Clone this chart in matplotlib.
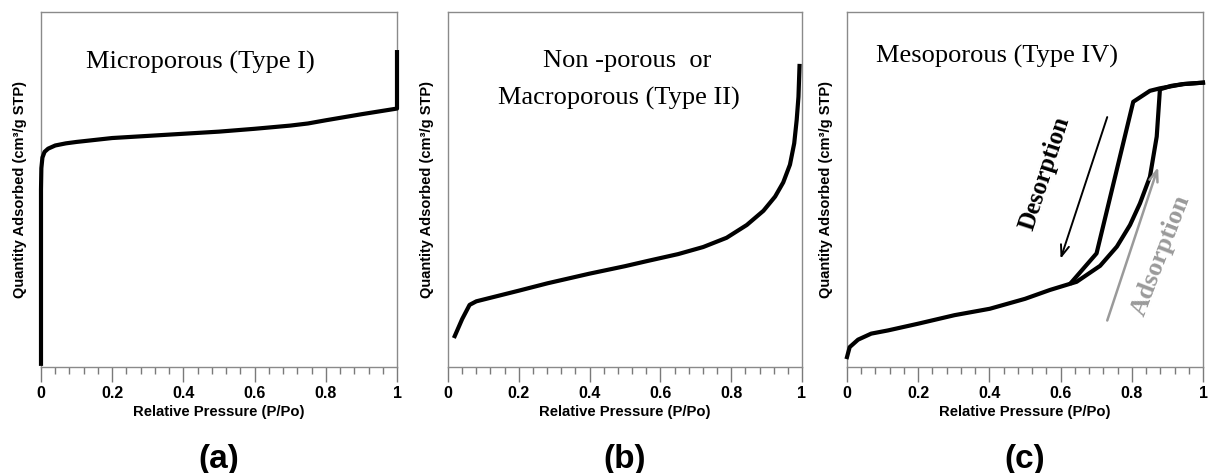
import matplotlib
matplotlib.use("Agg")
import matplotlib.pyplot as plt

# ---------------- data ----------------
# Panel (a): Type I isotherm
a_x = [0.0, 0.0, 0.001, 0.004, 0.01, 0.02, 0.04, 0.07, 0.1, 0.2, 0.3, 0.4, 0.5,
       0.6, 0.7, 0.75, 0.8, 0.9, 1.0, 1.0]
a_y = [0.009, 0.50, 0.56, 0.59, 0.606, 0.615, 0.624, 0.630, 0.634, 0.645, 0.651,
       0.657, 0.663, 0.671, 0.680, 0.686, 0.695, 0.712, 0.728, 0.887]

# Panel (b): Type II isotherm
b_x = [0.019, 0.04, 0.061, 0.08, 0.104, 0.2, 0.282, 0.4, 0.5, 0.565, 0.65,
       0.721, 0.787, 0.844, 0.891, 0.924, 0.947, 0.966, 0.978, 0.985, 0.990,
       0.993]
b_y = [0.087, 0.135, 0.175, 0.185, 0.191, 0.215, 0.236, 0.263, 0.284, 0.299,
       0.318, 0.338, 0.364, 0.400, 0.440, 0.480, 0.520, 0.570, 0.630, 0.696,
       0.761, 0.848]

# Panel (c): Type IV isotherm, adsorption and desorption branches
c_ads_x = [0.0, 0.0075, 0.031, 0.068, 0.115, 0.2, 0.302, 0.401, 0.5, 0.57,
           0.645, 0.711, 0.758, 0.795, 0.823, 0.851, 0.870, 0.879, 0.911,
           0.945, 1.0]
c_ads_y = [0.028, 0.056, 0.077, 0.094, 0.103, 0.122, 0.146, 0.164, 0.192,
           0.217, 0.240, 0.285, 0.339, 0.400, 0.461, 0.536, 0.649, 0.782,
           0.792, 0.797, 0.801]
c_des_x = [1.0, 0.945, 0.879, 0.851, 0.804, 0.701, 0.63]
c_des_y = [0.801, 0.797, 0.785, 0.778, 0.747, 0.320, 0.238]

x_ticks = [0, 0.2, 0.4, 0.6, 0.8, 1.0]
x_tick_labels = ["0", "0.2", "0.4", "0.6", "0.8", "1"]
x_minor = [i * 0.04 for i in range(26)]

titles_a = ["Microporous (Type I)"]
titles_b = ["Non -porous  or", "Macroporous (Type II)"]
titles_c = ["Mesoporous (Type IV)"]
panel_labels = ["(a)", "(b)", "(c)"]
xlabel = "Relative Pressure (P/Po)"
ylabel = "Quantity Adsorbed (cm\u00b3/g STP)"

# ---------------- figure ----------------
W, H = 1209, 473
fig = plt.figure(figsize=(W / 100, H / 100), dpi=100)

SANS = ["Liberation Sans", "DejaVu Sans"]
SERIF = ["Liberation Serif", "DejaVu Serif"]

boxes = [(41, 397), (448, 802), (847, 1203)]
top_px, bot_px = 12, 367
axes = []
for (l, r) in boxes:
    ax = fig.add_axes([l / W, 1 - bot_px / H, (r - l) / W, (bot_px - top_px) / H])
    ax.set_xlim(0, 1)
    ax.set_ylim(0, 1)
    ax.set_xticks(x_ticks)
    ax.set_xticklabels(x_tick_labels, fontfamily=SANS, fontweight="bold", fontsize=11.5)
    ax.set_xticks(x_minor, minor=True)
    ax.set_yticks([])
    ax.tick_params(axis="x", which="major", direction="out", length=11, width=1,
                   color="#7a7a7a", pad=3)
    ax.tick_params(axis="x", which="minor", direction="out", length=5, width=1,
                   color="#7a7a7a")
    for s in ax.spines.values():
        s.set_color("#8a8a8a")
        s.set_linewidth(1.0)
    ax.set_xlabel(xlabel, fontfamily=SANS, fontweight="bold", fontsize=10.7, labelpad=2.5)
    ax.set_ylabel(ylabel, fontfamily=SANS, fontweight="bold", fontsize=10.5)
    ax.yaxis.set_label_coords(-14 / (r - l), 0.5)
    axes.append(ax)

lw = 3.0
ax_a, ax_b, ax_c = axes
line_kw = dict(color="black", lw=lw, solid_joinstyle="round", clip_on=False, zorder=3)
ax_a.plot(a_x, a_y, **line_kw)
ax_b.plot(b_x, b_y, **line_kw)
ax_c.plot(c_ads_x, c_ads_y, **line_kw)
ax_c.plot(c_des_x, c_des_y, **line_kw)

# titles inside panels
ax_a.text(0.447, 0.858, titles_a[0], transform=ax_a.transAxes, ha="center",
          va="center", fontfamily=SERIF, fontsize=19)
ax_b.text(0.507, 0.862, titles_b[0], transform=ax_b.transAxes, ha="center",
          va="center", fontfamily=SERIF, fontsize=19)
ax_b.text(0.482, 0.757, titles_b[1], transform=ax_b.transAxes, ha="center",
          va="center", fontfamily=SERIF, fontsize=19)
ax_c.text(0.42, 0.874, titles_c[0], transform=ax_c.transAxes, ha="center",
          va="center", fontfamily=SERIF, fontsize=19)

# arrows and labels in panel c
ax_c.annotate("", xy=(0.600, 0.305), xytext=(0.731, 0.704),
              arrowprops=dict(arrowstyle="->,head_length=0.8,head_width=0.3",
                              color="black", lw=1.4, shrinkA=0, shrinkB=0))
ax_c.annotate("", xy=(0.874, 0.563), xytext=(0.731, 0.131),
              arrowprops=dict(arrowstyle="->,head_length=0.8,head_width=0.3",
                              color="#9a9a9a", lw=1.8, shrinkA=0, shrinkB=0))
ax_c.text(0.555, 0.545, "Desorption", transform=ax_c.transAxes, ha="center",
          va="center", rotation=72, rotation_mode="anchor",
          fontfamily=SERIF, fontweight="bold", fontsize=18, color="black")
ax_c.text(0.883, 0.315, "Adsorption", transform=ax_c.transAxes, ha="center",
          va="center", rotation=69, rotation_mode="anchor",
          fontfamily=SERIF, fontweight="bold", fontsize=19, color="#9a9a9a")

# panel labels
for (l, r), lab in zip(boxes, panel_labels):
    fig.text((l + r) / 2 / W, 1 - 459 / H, lab, ha="center", va="center",
             fontfamily=SANS, fontweight="bold", fontsize=24)

fig.savefig("out.png", dpi=100)
